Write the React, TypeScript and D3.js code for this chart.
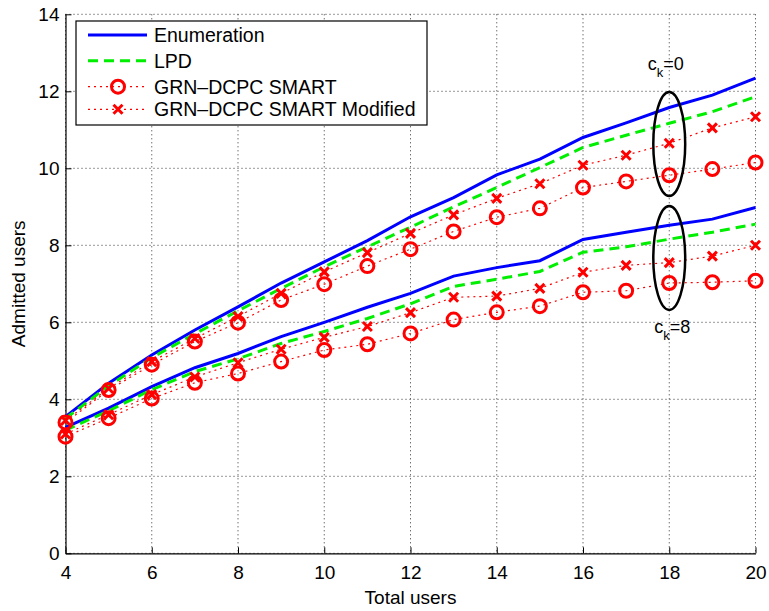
import React, { useRef, useEffect } from 'react';
import * as d3 from 'd3';

const totalUsers = [4, 5, 6, 7, 8, 9, 10, 11, 12, 13, 14, 15, 16, 17, 18, 19, 20];

// c_k = 0 group
const enumHigh = [3.55, 4.42, 5.15, 5.8, 6.4, 7.02, 7.57, 8.12, 8.74, 9.24, 9.83, 10.24, 10.8, 11.18, 11.58, 11.9, 12.34];
const lpdHigh = [3.5, 4.35, 5.08, 5.7, 6.3, 6.88, 7.44, 7.96, 8.47, 9.0, 9.5, 10.02, 10.54, 10.86, 11.17, 11.47, 11.86];
const smartHigh = [3.4, 4.24, 4.9, 5.5, 5.99, 6.58, 6.99, 7.46, 7.9, 8.36, 8.73, 8.96, 9.5, 9.66, 9.82, 9.98, 10.15];
const smartModHigh = [3.45, 4.28, 4.98, 5.58, 6.15, 6.75, 7.31, 7.81, 8.31, 8.79, 9.22, 9.6, 10.08, 10.34, 10.65, 11.05, 11.34];

// c_k = 8 group
const enumLow = [3.27, 3.77, 4.33, 4.82, 5.19, 5.63, 6.0, 6.39, 6.75, 7.2, 7.42, 7.6, 8.15, 8.34, 8.52, 8.68, 8.98];
const lpdLow = [3.2, 3.7, 4.25, 4.72, 5.05, 5.45, 5.76, 6.1, 6.48, 6.93, 7.12, 7.32, 7.82, 7.96, 8.16, 8.34, 8.55];
const smartLow = [3.03, 3.51, 4.02, 4.43, 4.67, 4.98, 5.28, 5.43, 5.71, 6.07, 6.26, 6.42, 6.78, 6.82, 7.02, 7.04, 7.08];
const smartModLow = [3.1, 3.6, 4.12, 4.58, 4.95, 5.3, 5.61, 5.89, 6.25, 6.65, 6.68, 6.88, 7.3, 7.48, 7.55, 7.72, 8.0];

const xTicks = [4, 6, 8, 10, 12, 14, 16, 18, 20];
const yTicks = [0, 2, 4, 6, 8, 10, 12, 14];
const legendLabels = ['Enumeration', 'LPD', 'GRN\u2013DCPC SMART', 'GRN\u2013DCPC SMART Modified'];

// annotation ellipses at x = 18: [centre y, half height]
const ellipses = [[10.63, 1.35], [7.67, 1.35]];

export default function App() {
  const ref = useRef<SVGSVGElement | null>(null);
  const width = 769;
  const height = 611;
  const margin = { top: 14.3, right: 13.5, bottom: 57.7, left: 65.5 };

  useEffect(() => {
    document.body.style.margin = '0';
    const svg = d3.select(ref.current);
    svg.selectAll('*').remove();
    const font = '"Liberation Sans", Arial, Helvetica, sans-serif';
    const fs = 19;

    const innerW = width - margin.left - margin.right;
    const innerH = height - margin.top - margin.bottom;
    const x = d3.scaleLinear().domain([4, 20]).range([0, innerW]);
    const y = d3.scaleLinear().domain([0, 14]).range([innerH, 0]);

    svg.append('rect').attr('width', width).attr('height', height).attr('fill', '#fff');
    const g = svg.append('g').attr('transform', `translate(${margin.left},${margin.top})`);

    // dotted grid
    g.selectAll('.gx').data(xTicks).enter().append('line')
      .attr('x1', (d) => x(d)).attr('x2', (d) => x(d)).attr('y1', 0).attr('y2', innerH)
      .attr('stroke', '#333').attr('stroke-width', 1).attr('stroke-dasharray', '1,3');
    g.selectAll('.gy').data(yTicks).enter().append('line')
      .attr('x1', 0).attr('x2', innerW).attr('y1', (d) => y(d)).attr('y2', (d) => y(d))
      .attr('stroke', '#333').attr('stroke-width', 1).attr('stroke-dasharray', '1,3');

    // axes (ticks inward)
    const xAxis = g.append('g').attr('transform', `translate(0,${innerH})`)
      .call(d3.axisBottom(x).tickValues(xTicks).tickSizeInner(-6).tickSizeOuter(0).tickPadding(12));
    const yAxis = g.append('g')
      .call(d3.axisLeft(y).tickValues(yTicks).tickSizeInner(-6).tickSizeOuter(0).tickPadding(6));
    [xAxis, yAxis].forEach((a) => {
      a.selectAll('text').attr('font-family', font).attr('font-size', fs).attr('fill', '#000');
      a.selectAll('line').attr('stroke', '#000');
      a.select('.domain').attr('stroke', '#000').attr('stroke-width', 1.2);
    });

    const line = d3.line<number>().x((_, i) => x(totalUsers[i])).y((d) => y(d));

    const drawSolid = (vals: number[]) => g.append('path').datum(vals).attr('d', line)
      .attr('fill', 'none').attr('stroke', '#0000ff').attr('stroke-width', 3);
    const drawDashed = (vals: number[]) => g.append('path').datum(vals).attr('d', line)
      .attr('fill', 'none').attr('stroke', '#00ee00').attr('stroke-width', 3).attr('stroke-dasharray', '10,6');
    const drawDotted = (vals: number[]) => g.append('path').datum(vals).attr('d', line)
      .attr('fill', 'none').attr('stroke', '#ff0000').attr('stroke-width', 1.2).attr('stroke-dasharray', '2,4');

    const circleMark = (sel: any, cx: number, cy: number) => sel.append('circle')
      .attr('cx', cx).attr('cy', cy).attr('r', 6.5)
      .attr('fill', 'none').attr('stroke', '#ff0000').attr('stroke-width', 3);
    const crossMark = (sel: any, cx: number, cy: number) => {
      const s = 4.5;
      sel.append('path')
        .attr('d', `M${cx - s},${cy - s}L${cx + s},${cy + s}M${cx - s},${cy + s}L${cx + s},${cy - s}`)
        .attr('stroke', '#ff0000').attr('stroke-width', 3).attr('fill', 'none');
    };

    [enumHigh, enumLow].forEach(drawSolid);
    [lpdHigh, lpdLow].forEach(drawDashed);
    [smartHigh, smartLow, smartModHigh, smartModLow].forEach(drawDotted);
    [smartHigh, smartLow].forEach((vals) => vals.forEach((v, i) => circleMark(g, x(totalUsers[i]), y(v))));
    [smartModHigh, smartModLow].forEach((vals) => vals.forEach((v, i) => crossMark(g, x(totalUsers[i]), y(v))));

    // annotation ellipses + labels
    ellipses.forEach(([cy, ry]) => {
      g.append('ellipse').attr('cx', x(18)).attr('cy', y(cy))
        .attr('rx', x(18.37) - x(18)).attr('ry', y(0) - y(ry))
        .attr('fill', 'none').attr('stroke', '#000').attr('stroke-width', 2.5);
    });
    const ck = (xx: number, yy: number, val: string) => {
      const t = g.append('text').attr('x', x(xx)).attr('y', y(yy))
        .attr('font-family', font).attr('font-size', 18).attr('fill', '#000');
      t.append('tspan').text('c');
      t.append('tspan').attr('font-size', 13).attr('dy', 7).text('k');
      t.append('tspan').attr('dy', -7).text('=' + val);
    };
    ck(17.5, 12.55, '0');
    ck(17.65, 5.72, '8');

    // axis labels
    svg.append('text').attr('x', margin.left + innerW / 2).attr('y', 604).attr('text-anchor', 'middle')
      .attr('font-family', font).attr('font-size', fs).text('Total users');
    svg.append('text').attr('transform', `translate(25,${margin.top + innerH / 2}) rotate(-90)`)
      .attr('text-anchor', 'middle').attr('font-family', font).attr('font-size', fs).text('Admitted users');

    // legend
    const lg = svg.append('g').attr('transform', 'translate(76,21)');
    lg.append('rect').attr('width', 351).attr('height', 104)
      .attr('fill', '#fff').attr('stroke', '#000').attr('stroke-width', 1.2);
    const rowY = [14, 39.7, 65.7, 88.3];
    legendLabels.forEach((label, i) => {
      const ry = rowY[i];
      const ln = lg.append('line').attr('x1', 12).attr('x2', 71).attr('y1', ry).attr('y2', ry);
      if (i === 0) ln.attr('stroke', '#0000ff').attr('stroke-width', 3);
      else if (i === 1) ln.attr('stroke', '#00ee00').attr('stroke-width', 3).attr('stroke-dasharray', '10,6');
      else ln.attr('stroke', '#ff0000').attr('stroke-width', 1.2).attr('stroke-dasharray', '2,4');
      if (i === 2) circleMark(lg, 42, ry);
      if (i === 3) crossMark(lg, 42, ry);
      lg.append('text').attr('x', 78).attr('y', ry + 7).attr('font-family', font).attr('font-size', 19.5)
        .attr('fill', '#000').text(label);
    });
  }, []);

  return <svg ref={ref} width={width} height={height} style={{ display: 'block' }}></svg>;
}
